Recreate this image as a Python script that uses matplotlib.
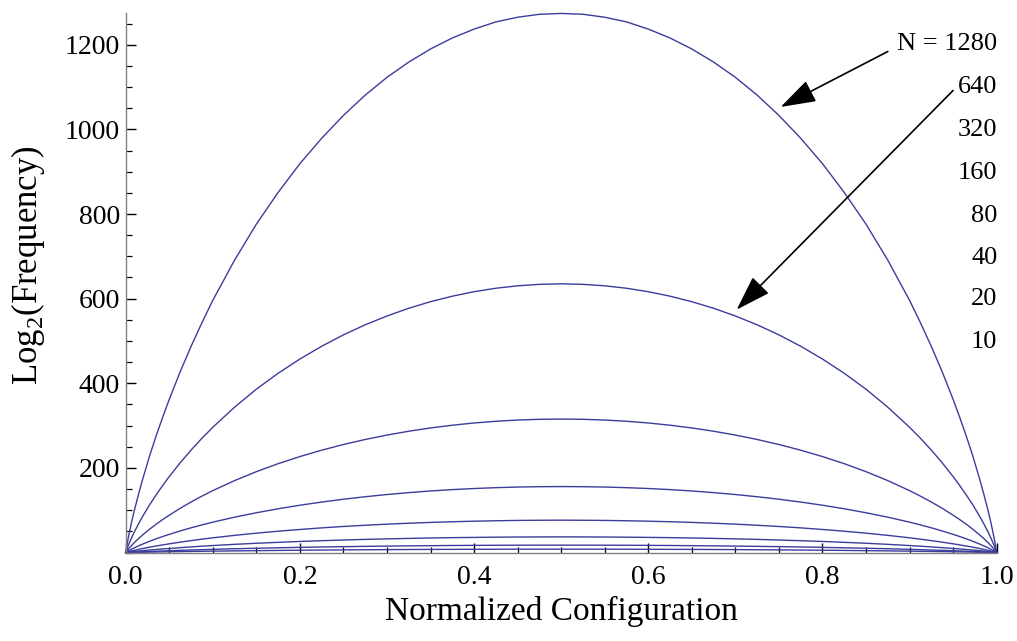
import matplotlib
matplotlib.use("Agg")
import matplotlib.pyplot as plt
from matplotlib.ticker import MultipleLocator

plt.rcParams['font.family'] = ['Liberation Serif', 'DejaVu Serif']
plt.rcParams['mathtext.fontset'] = 'custom'
plt.rcParams['mathtext.rm'] = 'Liberation Serif'

# normalized configuration (fraction of ones)
x = [0, .0025, .005, .0075, .01, .015, .02, .0275, .035, .0425, .05, .0625, .075, .0875, .1,
     .125, .15, .175, .2, .225, .25, .275, .3, .325, .35, .375, .4, .425, .45, .475, .5,
     .525, .55, .575, .6, .625, .65, .675, .7, .725, .75, .775, .8, .825, .85, .875, .9,
     .9125, .925, .9375, .95, .9575, .965, .9725, .98, .985, .99, .9925, .995, .9975, 1]

# log2(frequency)
n1280 = [0, 30, 55, 79, 100, 140, 177, 229, 276, 320, 362, 427, 487, 543, 596, 691, 776, 851, 919,
         979, 1033, 1081, 1123, 1159, 1190, 1216, 1237, 1254, 1265, 1272, 1274,
         1272, 1265, 1254, 1237, 1216, 1190, 1159, 1123, 1081, 1033, 979, 919, 851, 776, 691, 596,
         543, 487, 427, 362, 320, 276, 229, 177, 140, 100, 79, 55, 30, 0]
n640 = [0, 14.5, 27, 38.3, 49, 69, 87.3, 113, 136.5, 158.6, 179.5, 212, 242, 270, 296, 343.5, 386,
        423.6, 457.3, 487.5, 514.4, 538.2, 559, 577.3, 592.8, 605.8, 616.4, 624.6, 630.3, 633.8, 635,
        633.8, 630.3, 624.6, 616.4, 605.8, 592.8, 577.3, 559, 538.2, 514.4, 487.5, 457.3, 423.6, 386,
        343.5, 296, 270, 242, 212, 179.5, 158.6, 136.5, 113, 87.3, 69, 49, 38.3, 27, 14.5, 0]
n320 = [0, 6.9, 12.8, 18.4, 23.7, 33.5, 42.6, 55.3, 67, 78, 88.3, 104.5, 119.4, 133.3, 146.3, 170,
        191.1, 210, 226.8, 241.9, 255.3, 267.2, 277.6, 286.7, 294.4, 300.9, 306.2, 310.2, 313.1,
        314.9, 315.4,
        314.9, 313.1, 310.2, 306.2, 300.9, 294.4, 286.7, 277.6, 267.2, 255.3, 241.9, 226.8, 210,
        191.1, 170, 146.3, 133.3, 119.4, 104.5, 88.3, 78, 67, 55.3, 42.6, 33.5, 23.7, 18.4, 12.8,
        6.9, 0]
n160 = [0, 3.3, 6.1, 8.7, 11.3, 16, 20.5, 26.7, 32.5, 37.9, 43, 51, 58.4, 65.3, 71.8, 83.6, 94,
        103.4, 111.8, 119.3, 126, 131.9, 137.1, 141.6, 145.5, 148.7, 151.3, 153.3, 154.8, 155.6,
        155.9,
        155.6, 154.8, 153.3, 151.3, 148.7, 145.5, 141.6, 137.1, 131.9, 126, 119.3, 111.8, 103.4, 94,
        83.6, 71.8, 65.3, 58.4, 51, 43, 37.9, 32.5, 26.7, 20.5, 16, 11.3, 8.7, 6.1, 3.3, 0]
n80 = [0, 1.6, 2.8, 4.1, 5.3, 7.5, 9.7, 12.7, 15.5, 18.1, 20.6, 24.5, 28.2, 31.6, 34.8, 40.6, 45.8,
       50.4, 54.5, 58.3, 61.6, 64.5, 67.1, 69.3, 71.2, 72.8, 74.1, 75.1, 75.9, 76.3, 76.5,
       76.3, 75.9, 75.1, 74.1, 72.8, 71.2, 69.3, 67.1, 64.5, 61.6, 58.3, 54.5, 50.4, 45.8, 40.6,
       34.8, 31.6, 28.2, 24.5, 20.6, 18.1, 15.5, 12.7, 9.7, 7.5, 5.3, 4.1, 2.8, 1.6, 0]
n40 = [0, 0.8, 1.4, 2.0, 2.4, 3.5, 4.5, 5.9, 7.2, 8.5, 9.6, 11.5, 13.3, 15, 16.5, 19.4, 21.9, 24.1,
       26.2, 28, 29.6, 31.1, 32.3, 33.4, 34.4, 35.2, 35.8, 36.3, 36.7, 36.9, 37,
       36.9, 36.7, 36.3, 35.8, 35.2, 34.4, 33.4, 32.3, 31.1, 29.6, 28, 26.2, 24.1, 21.9, 19.4,
       16.5, 15, 13.3, 11.5, 9.6, 8.5, 7.2, 5.9, 4.5, 3.5, 2.4, 2.0, 1.4, 0.8, 0]
n20 = [0, 0.26, 0.52, 0.77, 1.0, 1.45, 1.9, 2.5, 3.1, 3.7, 4.3, 5.2, 6.0, 6.8, 7.57, 8.95, 10.15,
       11.25, 12.24, 13.15, 13.92, 14.62, 15.24, 15.78, 16.24, 16.63, 16.94, 17.18, 17.36, 17.46,
       17.5,
       17.46, 17.36, 17.18, 16.94, 16.63, 16.24, 15.78, 15.24, 14.62, 13.92, 13.15, 12.24, 11.25,
       10.15, 8.95, 7.57, 6.8, 6.0, 5.2, 4.3, 3.7, 3.1, 2.5, 1.9, 1.45, 1.0, 0.77, 0.52, 0.26, 0]
n10 = [0, 0.11, 0.21, 0.31, 0.41, 0.6, 0.8, 1.07, 1.33, 1.6, 1.85, 2.25, 2.62, 2.98, 3.32, 3.9,
       4.45, 5.0, 5.49, 5.9, 6.25, 6.6, 6.91, 7.15, 7.38, 7.56, 7.71, 7.83, 7.92, 7.97, 7.98,
       7.97, 7.92, 7.83, 7.71, 7.56, 7.38, 7.15, 6.91, 6.6, 6.25, 5.9, 5.49, 5.0, 4.45, 3.9, 3.32,
       2.98, 2.62, 2.25, 1.85, 1.6, 1.33, 1.07, 0.8, 0.6, 0.41, 0.31, 0.21, 0.11, 0]

curves = [n1280, n640, n320, n160, n80, n40, n20, n10]
labels = ["N = 1280", "640", "320", "160", "80", "40", "20", "10"]
label_y = [1201, 1100, 998, 898, 796, 697, 600, 498]

fig = plt.figure(figsize=(10.17, 6.41), dpi=100)
ax = fig.add_axes([0.1236, 0.138, 0.8564, 0.8417])

for c in curves:
    ax.plot(x, c, color='#3c3c9c', lw=1.0, clip_on=False, solid_joinstyle='round')

ax.set_xlim(0, 1)
ax.set_ylim(0, 1275)

for s in ['top', 'right']:
    ax.spines[s].set_visible(False)
for s in ['left', 'bottom']:
    ax.spines[s].set_color('#808080')
    ax.spines[s].set_linewidth(1.0)

ax.xaxis.set_minor_locator(MultipleLocator(0.05))
ax.yaxis.set_minor_locator(MultipleLocator(50))
ax.set_yticks([200, 400, 600, 800, 1000, 1200])
ax.set_yticklabels(['200', '400', '600', '800', '1000', '1200'])
ax.set_xticks([0, 0.2, 0.4, 0.6, 0.8, 1.0])
ax.set_xticklabels(['0.0', '0.2', '0.4', '0.6', '0.8', '1.0'])
ax.tick_params(which='major', direction='in', length=7, width=1.0, color='black', labelsize=20)
ax.tick_params(axis='y', which='major', pad=4)
ax.tick_params(axis='x', which='major', pad=9)
ax.tick_params(which='minor', direction='in', length=4, width=0.9, color='black')

ax.set_xlabel('Normalized Configuration', fontsize=24, labelpad=4)
fig.text(28 / 1017, 1 - 265 / 641, 'Log$_2$(Frequency)', rotation=90, fontsize=25,
         ha='center', va='center')

for lab, yy in zip(labels, label_y):
    ax.text(1.001, yy, lab, fontsize=19, ha='right', va='center')

arrow = dict(arrowstyle='-|>,head_length=1.1,head_width=0.36', mutation_scale=20,
             color='black', lw=1.2, shrinkA=0, shrinkB=0)
ax.annotate('', xy=(0.752, 1053), xytext=(0.875, 1184), arrowprops=arrow)
ax.annotate('', xy=(0.7015, 574), xytext=(0.950, 1092), arrowprops=arrow)

fig.savefig('out.png', dpi=100)
